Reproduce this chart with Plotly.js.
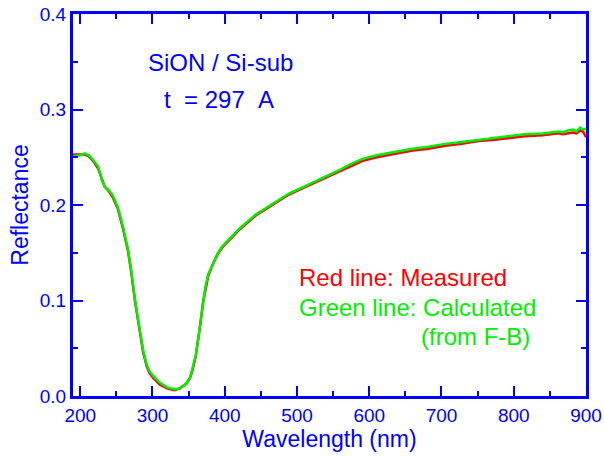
<!DOCTYPE html>
<html>
<head>
<meta charset="utf-8">
<script src="https://cdn.plot.ly/plotly-3.0.1.min.js"></script>
<style>
  html, body { margin: 0; padding: 0; background: #fff; }
  #chart { width: 604px; height: 456px; }
</style>
</head>
<body>
<div id="chart"></div>
<script>
// Reflectance spectrum of a SiON film on a Si substrate
const wavelength = [190, 200, 206, 212, 218, 225, 230, 234, 239, 245, 252, 259, 266, 270, 276, 282, 287, 292, 296, 301,
  310, 320, 330, 338, 347, 352, 356, 360, 363, 366, 370, 373, 377, 383, 390, 397, 410, 420, 443, 466,
  489, 512, 535, 560, 575, 590, 610, 636, 660, 682, 705, 728, 751, 770, 790, 815, 840, 855, 862, 868,
  875, 882, 887, 892, 896, 900];

const measured = [0.253, 0.253, 0.253, 0.251, 0.246, 0.238, 0.226, 0.219, 0.215, 0.208, 0.196, 0.176, 0.152, 0.133, 0.098, 0.067, 0.046, 0.031, 0.024, 0.019,
  0.012, 0.008, 0.006, 0.008, 0.013, 0.019, 0.029, 0.042, 0.057, 0.074, 0.098, 0.111, 0.125, 0.137, 0.148, 0.156, 0.166, 0.174, 0.189, 0.200,
  0.211, 0.219, 0.227, 0.235, 0.241, 0.246, 0.250, 0.254, 0.257, 0.259, 0.262, 0.264, 0.267, 0.268, 0.270, 0.272, 0.273, 0.274, 0.275, 0.274,
  0.275, 0.276, 0.275, 0.278, 0.277, 0.271];

const calculated = [0.251, 0.252, 0.254, 0.252, 0.247, 0.240, 0.226, 0.219, 0.216, 0.210, 0.198, 0.178, 0.154, 0.135, 0.100, 0.069, 0.048, 0.033, 0.026, 0.021,
  0.014, 0.009, 0.007, 0.008, 0.013, 0.019, 0.030, 0.043, 0.058, 0.075, 0.100, 0.113, 0.127, 0.138, 0.149, 0.157, 0.167, 0.175, 0.190, 0.201,
  0.212, 0.220, 0.228, 0.237, 0.243, 0.248, 0.252, 0.256, 0.259, 0.261, 0.264, 0.266, 0.268, 0.270, 0.272, 0.274, 0.275, 0.276, 0.277, 0.276,
  0.278, 0.279, 0.277, 0.281, 0.279, 0.280];

const xTicks = [200, 300, 400, 500, 600, 700, 800, 900];
const yTicks = [0.0, 0.1, 0.2, 0.3, 0.4];

const BLUE = '#0000ff';
const FONT = 'Liberation Sans, Arial, Helvetica, sans-serif';

const traces = [
  { x: wavelength, y: measured, type: 'scatter', mode: 'lines',
    line: { color: '#ff0000', width: 2.5 }, name: 'Measured' },
  { x: wavelength, y: calculated, type: 'scatter', mode: 'lines',
    line: { color: '#00ee00', width: 2.5 }, name: 'Calculated' }
];

const axisCommon = {
  showline: true, linecolor: BLUE, linewidth: 3, mirror: 'ticks',
  ticks: 'inside', ticklen: 10, tickwidth: 2, tickcolor: BLUE,
  showgrid: false, zeroline: false,
  tickfont: { family: FONT, size: 19, color: BLUE }
};

const layout = {
  width: 604, height: 456,
  margin: { l: 73, r: 18, t: 14, b: 60 },
  paper_bgcolor: '#ffffff', plot_bgcolor: '#ffffff',
  showlegend: false,
  xaxis: Object.assign({}, axisCommon, {
    range: [190, 900], tickvals: xTicks, ticktext: xTicks.map(String),
    minor: { dtick: 50, tick0: 200, ticks: 'inside', ticklen: 5, tickwidth: 2, tickcolor: BLUE },
    title: { text: 'Wavelength (nm)', font: { family: FONT, size: 23, color: BLUE }, standoff: 7 }
  }),
  yaxis: Object.assign({}, axisCommon, {
    range: [0, 0.4], tickvals: yTicks, ticktext: yTicks.map(v => v.toFixed(1)),
    minor: { dtick: 0.05, tick0: 0, ticks: 'inside', ticklen: 5, tickwidth: 2, tickcolor: BLUE },
    title: { text: 'Reflectance', font: { family: FONT, size: 23, color: BLUE }, standoff: 5 }
  }),
  annotations: [
    { text: 'SiON / Si-sub', xref: 'paper', yref: 'paper', x: 0.2875, y: 0.872,
      xanchor: 'center', yanchor: 'middle', showarrow: false,
      font: { family: FONT, size: 24, color: BLUE } },
    { text: 't\u00a0\u00a0= 297\u00a0\u00a0A', xref: 'paper', yref: 'paper', x: 0.1735, y: 0.775,
      xanchor: 'left', yanchor: 'middle', showarrow: false,
      font: { family: FONT, size: 24, color: BLUE } },
    { text: 'Red line: Measured', xref: 'paper', yref: 'paper', x: 0.4366, y: 0.309,
      xanchor: 'left', yanchor: 'middle', showarrow: false,
      font: { family: FONT, size: 24, color: '#ff0000' } },
    { text: 'Green line: Calculated', xref: 'paper', yref: 'paper', x: 0.4366, y: 0.2304,
      xanchor: 'left', yanchor: 'middle', showarrow: false,
      font: { family: FONT, size: 24, color: '#00ee00' } },
    { text: '(from F-B)', xref: 'paper', yref: 'paper', x: 0.8947, y: 0.1545,
      xanchor: 'right', yanchor: 'middle', showarrow: false,
      font: { family: FONT, size: 24, color: '#00ee00' } }
  ]
};

Plotly.newPlot('chart', traces, layout, { staticPlot: true, displayModeBar: false });
</script>
</body>
</html>
